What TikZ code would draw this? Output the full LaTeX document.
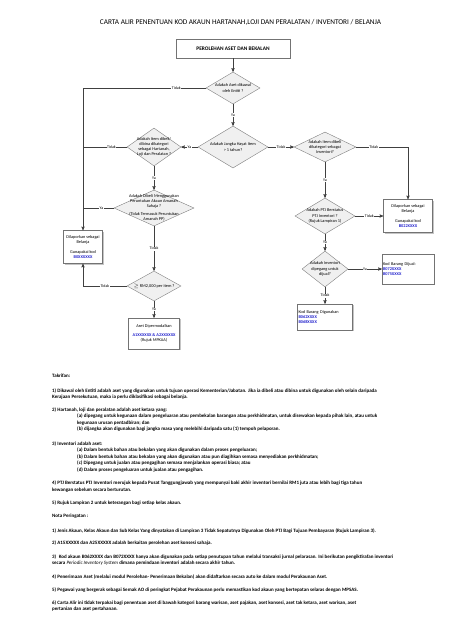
\documentclass[tikz,border=0pt]{standalone}
\usepackage{fontspec}
\setmainfont{Carlito}
\usetikzlibrary{positioning,arrows,shapes.geometric,shadows}

\definecolor{kodblue}{RGB}{35,35,205}
\newcommand{\kodakaun}[1]{\textcolor{kodblue}{\textbf{#1}}}

\begin{document}
\begin{tikzpicture}[x=1pt,y=-1pt,>=stealth',
    font=\fontsize{4.3}{5.2}\selectfont,
    decision/.style 2 args={diamond,draw=black!50,fill=gray!12,inner sep=0pt,minimum width=#1,minimum height=#2},
    block/.style={rectangle,draw=black!55,fill=white,inner sep=1pt,align=center,
        drop shadow={shadow xshift=1.2pt,shadow yshift=-1.2pt,opacity=0.45}},
    lbl/.style={fill=white,inner sep=0.6pt,font=\fontsize{4}{4.5}\selectfont},
    note/.style={anchor=north west,inner sep=0pt,align=left,font=\fontsize{5}{6.4}\selectfont\bfseries},
    arrow/.style={draw=black!75,line width=0.45pt,->},
    link/.style={draw=black!75,line width=0.45pt}]

    \fill[white] (0,0) rectangle (474,632);
    \useasboundingbox (0,0) rectangle (474,632);

    \node[font=\fontsize{7.3}{8}\selectfont] (title) at (240.5,22) {CARTA ALIR PENENTUAN KOD AKAUN HARTANAH,LOJI DAN PERALATAN / INVENTORI / BELANJA};

    % carta alir
    \node[block,minimum width=114,minimum height=19,font=\fontsize{5.4}{6}\selectfont\bfseries] (mula) at (233,48.5) {PEROLEHAN ASET DAN BEKALAN};

    \node[decision={54}{32},label={[align=center]center:Adakah Aset dikawal\\oleh Entiti ?}] (entiti) at (233,88) {};
    \node[decision={70}{42},label={[align=center]center:Adakah Jangka Hayat Item\\> 1 tahun?}] (hayat) at (233,147) {};
    \node[decision={54}{38},label={[align=center]center:Adakah Item dibeli/\\dibina dikategori\\sebagai Hartanah,\\Loji dan Peralatan ?}] (hlp) at (154,147) {};
    \node[decision={62}{30},label={[align=center]center:Adakah Item dibeli\\dikategori sebagai\\Inventori?}] (inv) at (325,147) {};
    \node[decision={60}{36},label={[align=center]center:Adakah PTJ Berstatus\\PTJ Inventori ?\\(Rujuk Lampiran 1)}] (ptj) at (325,216) {};
    \node[decision={46}{36},label={[align=center]center:Adakah Inventori\\dipegang untuk\\dijual?}] (jual) at (325,269) {};
    \node[decision={80}{36},label={[align=center]center:Adakah Dibeli Menggunakan\\Peruntukan Akaun Amanah\\Sahaja ?\\[2.5pt](Tidak Termasuk Peruntukan\\Amanah PP)}] (amanah) at (154,208) {};
    \node[decision={54}{30},label={[align=center]center:$\geq$ RM2,000 per item ?}] (nilai) at (154,286) {};

    \node[block,minimum width=39,minimum height=33] (belanjaL) at (83,247) {Dilaporkan sebagai\\Belanja\\[4pt]Gunapakai kod\\\kodakaun{B0XXXXXX}};
    \node[block,minimum width=51,minimum height=31] (modal) at (154,333.5) {Aset Dipermodalkan\\[4pt]\kodakaun{A1XXXXXX \& A2XXXXXX}\\(Rujuk MPKAA)};
    \node[block,minimum width=49,minimum height=33] (belanjaR) at (408,216) {Dilaporkan sebagai\\Belanja\\[4pt]Gunapakai kod\\\kodakaun{B022XXXX}};
    \node[block,text width=50,align=left,minimum height=30] (dijual) at (408,269) {Kod Barang Dijual:\\\kodakaun{B072XXXX}\\\kodakaun{B075XXXX}};
    \node[block,text width=53,align=left,minimum height=26] (digunakan) at (325,317) {Kod Barang Digunakan\\\kodakaun{B062XXXX}\\\kodakaun{B068XXXX}};

    \draw[arrow] (mula) -- (entiti);
    \draw[arrow] (entiti.west) -| node[lbl,pos=0.12]{Tidak} (belanjaL.north);
    \draw[arrow] (entiti) -- node[lbl]{Ya} (hayat);
    \draw[arrow] (hayat) -- node[lbl]{Ya} (hlp);
    \draw[link] (hlp.west) -- node[lbl,pos=0.35]{Tidak} (hlp.west -| belanjaL.north);
    \draw[arrow] (hayat) -- node[lbl]{Tidak} (inv);
    \draw[arrow] (inv.east) -| node[lbl,pos=0.17]{Tidak} (belanjaR.north);
    \draw[arrow] (inv) -- node[lbl]{Ya} (ptj);
    \draw[arrow] (ptj) -- node[lbl]{Tidak} (belanjaR);
    \draw[arrow] (ptj) -- node[lbl]{Ya} (jual);
    \draw[arrow] (jual) -- node[lbl]{Ya} (dijual);
    \draw[arrow] (jual) -- node[lbl]{Tidak} (digunakan);
    \draw[arrow] (hlp) -- node[lbl]{Ya} (amanah);
    \draw[link] (amanah.west) -- node[lbl,pos=0.4]{Ya} (amanah.west -| belanjaL.north);
    \draw[arrow] (amanah) -- node[lbl]{Tidak} (nilai);
    \draw[arrow] (nilai.west) -| node[lbl,pos=0.25]{Tidak} (belanjaL.south);
    \draw[arrow] (nilai) -- node[lbl]{Ya} (modal);

    % takrifan dan nota
    \node[note] (takrif) at (52,373.5) {Takrifan:};
    \node[note] (takrif1) at (52,388.5) {1) Dikawal oleh Entiti adalah aset yang digunakan untuk tujuan operasi Kementerian/Jabatan. Jika ia dibeli atau dibina untuk digunakan oleh selain daripada\\Kerajaan Persekutuan, maka ia perlu diklasifikasi sebagai belanja.};
    \node[note] (takrif2) at (52,407.5) {2) Hartanah, loji dan peralatan adalah aset ketara yang:\\
        \hspace*{25pt}(a) dipegang untuk kegunaan dalam pengeluaran atau pembekalan barangan atau perkhidmatan, untuk disewakan kepada pihak lain, atau untuk\\
        \hspace*{25pt}kegunaan urusan pentadbiran; dan\\
        \hspace*{25pt}(b) dijangka akan digunakan bagi jangka masa yang melebihi daripada satu (1) tempoh pelaporan.};
    \node[note] (takrif3) at (52,441.5) {3) Inventori adalah aset:\\
        \hspace*{25pt}(a) Dalam bentuk bahan atau bekalan yang akan digunakan dalam proses pengeluaran;\\
        \hspace*{25pt}(b) Dalam bentuk bahan atau bekalan yang akan digunakan atau pun diagihkan semasa menyediakan perkhidmatan;\\
        \hspace*{25pt}(c) Dipegang untuk jualan atau pengagihan semasa menjalankan operasi biasa; atau\\
        \hspace*{25pt}(d) Dalam proses pengeluaran untuk jualan atau pengagihan.};
    \node[note] (takrif4) at (52,480.5) {4) PTJ Berstatus PTJ Inventori merujuk kepada Pusat Tanggungjawab yang mempunyai baki akhir inventori bernilai RM1 juta atau lebih bagi tiga tahun\\[1pt]kewangan sebelum secara berturutan.};
    \node[note] (takrif5) at (52,500.5) {5) Rujuk Lampiran 2 untuk keterangan bagi setiap kelas akaun.};
    \node[note] (nota) at (52,513.5) {Nota Peringatan :};
    \node[note] (nota1) at (52,528.5) {1) Jenis Akaun, Kelas Akaun dan Sub Kelas Yang dinyatakan di Lampiran 3 Tidak Sepatutnya Digunakan Oleh PTJ Bagi Tujuan Pembayaran (Rujuk Lampiran 3).};
    \node[note] (nota2) at (52,540.5) {2) A15XXXXX dan A25XXXXX adalah berkaitan perolehan aset konsesi sahaja.};
    \node[note] (nota3) at (52,554.5) {3)\; Kod akaun B062XXXX dan B072XXXX hanya akan digunakan pada setiap penutupan tahun melalui transaksi jurnal pelarasan. Ini berikutan pengiktirafan inventori\\secara {\mdseries\itshape Periodic Inventory System} dimana pemindaan inventori adalah secara akhir tahun.};
    \node[note] (nota4) at (52,574.5) {4) Penerimaan Aset (melalui modul Perolehan- Penerimaan Bekalan) akan didaftarkan secara auto ke dalam modul Perakaunan Aset.};
    \node[note] (nota5) at (52,587.5) {5) Pegawai yang bergerak sebagai Semak AO di peringkat Pejabat Perakaunan perlu memastikan kod akaun yang bertepatan selaras dengan MPSAS.};
    \node[note] (nota6) at (52,600.5) {6) Carta Alir ini tidak terpakai bagi penentuan aset di bawah kategori barang warisan, aset pajakan, aset konsesi, aset tak ketara, aset warisan, aset\\pertanian dan aset pertahanan.};
\end{tikzpicture}
\end{document}
